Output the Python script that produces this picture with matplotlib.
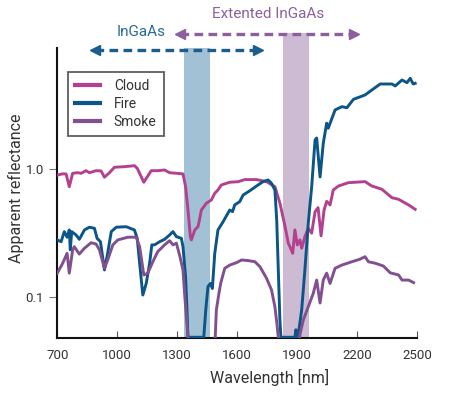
import matplotlib
matplotlib.use("Agg")
import matplotlib.pyplot as plt
import matplotlib.transforms as mtransforms

plt.rcParams['font.family'] = ['Roboto', 'DejaVu Sans']

# wavelength [nm] / apparent reflectance
cloud_nm = [700, 725, 744, 760, 777, 802, 819, 844, 861, 894, 919, 936, 961, 986, 1036, 1086, 1100,
            1133, 1170, 1203, 1237, 1262, 1296, 1329, 1342, 1354, 1366, 1371, 1388, 1404, 1413, 1421,
            1446, 1471, 1488, 1504, 1521, 1563, 1605, 1638, 1697, 1747, 1789, 1814, 1840, 1856, 1864,
            1878, 1889, 1901, 1914, 1923, 1939, 1956, 1973, 1990, 2005, 2020, 2035, 2048, 2065, 2081,
            2107, 2157, 2240, 2274, 2324, 2375, 2408, 2458, 2491]
cloud_r = [0.90, 0.92, 0.92, 0.73, 0.93, 0.94, 0.93, 0.975, 0.94, 0.975, 0.97, 0.866, 0.94, 1.037, 1.048,
           1.067, 1.018, 0.791, 0.975, 0.975, 0.987, 0.94, 0.93, 0.92, 0.73, 0.479, 0.296, 0.279, 0.334,
           0.354, 0.412, 0.479, 0.541, 0.574, 0.648, 0.688, 0.753, 0.791, 0.799, 0.83, 0.83, 0.80, 0.73,
           0.542, 0.354, 0.263, 0.247, 0.219, 0.334, 0.255, 0.279, 0.24, 0.296, 0.344, 0.315, 0.465,
           0.50, 0.30, 0.479, 0.56, 0.525, 0.688, 0.739, 0.785, 0.80, 0.739, 0.697, 0.598, 0.581, 0.525,
           0.485]

fire_nm = [700, 719, 735, 749, 760, 765, 772, 794, 810, 836, 861, 886, 899, 916, 936, 952, 970, 995,
           1045, 1086, 1100, 1112, 1128, 1145, 1162, 1173, 1187, 1212, 1237, 1262, 1279, 1296, 1321,
           1329, 1342, 1349, 1354, 1433, 1443, 1454, 1466, 1476, 1488, 1504, 1530, 1563, 1577, 1588,
           1613, 1630, 1664, 1697, 1730, 1755, 1772, 1789, 1798, 1806, 1814, 1819, 1889, 1894, 1901,
           1906, 1923, 1939, 1956, 1973, 1990, 1998, 2015, 2031, 2048, 2056, 2090, 2124, 2149, 2182,
           2240, 2274, 2316, 2375, 2391, 2425, 2450, 2466, 2481, 2491]
fire_r = [0.279, 0.270, 0.324, 0.293, 0.334, 0.233, 0.324, 0.305, 0.282, 0.334, 0.351, 0.344, 0.287,
          0.270, 0.162, 0.219, 0.324, 0.351, 0.354, 0.334, 0.287, 0.183, 0.103, 0.127, 0.183, 0.255,
          0.255, 0.270, 0.282, 0.305, 0.324, 0.296, 0.287, 0.247, 0.1435, 0.0787, 0.048, 0.048, 0.0787,
          0.120, 0.127, 0.116, 0.219, 0.334, 0.388, 0.479, 0.465, 0.525, 0.557, 0.628, 0.679, 0.739,
          0.80, 0.824, 0.776, 0.688, 0.400, 0.162, 0.0656, 0.048, 0.048, 0.055, 0.048, 0.0502, 0.0787,
          0.162, 0.379, 0.730, 1.70, 1.76, 0.87, 1.60, 2.30, 2.10, 2.92, 3.10, 3.04, 3.54, 3.83, 4.19,
          4.67, 4.67, 4.51, 5.02, 4.78, 5.18, 4.67, 4.73]

smoke_nm = [700, 727, 749, 760, 777, 785, 810, 836, 869, 894, 911, 936, 952, 978, 1003, 1053, 1095,
            1112, 1133, 1153, 1178, 1203, 1237, 1262, 1279, 1296, 1312, 1329, 1337, 1347, 1354, 1365,
            1475, 1485, 1496, 1509, 1518, 1538, 1563, 1597, 1622, 1655, 1689, 1714, 1747, 1772, 1789,
            1799, 1806, 1815, 1900, 1914, 1931, 1956, 1981, 1998, 2015, 2031, 2048, 2065, 2090, 2124,
            2174, 2215, 2240, 2257, 2291, 2332, 2366, 2408, 2425, 2458, 2483]
smoke_r = [0.153, 0.183, 0.219, 0.153, 0.233, 0.247, 0.216, 0.240, 0.265, 0.259, 0.233, 0.167, 0.194,
           0.255, 0.279, 0.293, 0.293, 0.247, 0.148, 0.153, 0.188, 0.226, 0.255, 0.275, 0.255, 0.263,
           0.212, 0.162, 0.1063, 0.0656, 0.048, 0.03, 0.03, 0.03, 0.0787, 0.1063, 0.128, 0.167, 0.177,
           0.185, 0.194, 0.192, 0.188, 0.172, 0.1395, 0.113, 0.0834, 0.0615, 0.048, 0.03, 0.03, 0.0502,
           0.0656, 0.0834, 0.1063, 0.135, 0.0892, 0.135, 0.153, 0.127, 0.167, 0.177, 0.188, 0.197, 0.206,
           0.188, 0.183, 0.174, 0.154, 0.148, 0.135, 0.135, 0.129]

ingaas_band = (1334, 1466)
ext_band = (1828, 1958)

CLOUD_C = "#b4418f"
FIRE_C = "#0b5587"
SMOKE_C = "#82508f"

fig = plt.figure(figsize=(4.49, 3.98), dpi=100)
ax = fig.add_axes([0.1276, 0.1508, 0.8011, 0.7278])

ax.axvspan(*ingaas_band, ymin=0, ymax=1.0, color="#a2c1d5", lw=0, zorder=0)
ax.axvspan(*ext_band, ymin=0, ymax=1.053, color="#cdbad3", lw=0, zorder=0, clip_on=False)

ax.plot(cloud_nm, cloud_r, color=CLOUD_C, lw=2.1, label="Cloud", zorder=3)
ax.plot(fire_nm, fire_r, color=FIRE_C, lw=2.1, label="Fire", zorder=3)
ax.plot(smoke_nm, smoke_r, color=SMOKE_C, lw=2.1, label="Smoke", zorder=3)

ax.set_yscale("log")
ax.set_xlim(700, 2500)
ax.set_ylim(0.0474, 8.9)
ax.set_xticks([700, 1000, 1300, 1600, 1900, 2200, 2500])
ax.set_yticks([0.1, 1.0])
ax.set_yticklabels(["0.1", "1.0"])
ax.yaxis.set_minor_locator(matplotlib.ticker.NullLocator())
ax.tick_params(axis="x", direction="in", length=5, width=0.8, color="#555555",
               labelsize=9.5, labelcolor="#333333", pad=8)
ax.tick_params(axis="y", direction="out", length=6, width=0.8, color="#777777",
               labelsize=9.5, labelcolor="#333333")

for s in ["top", "right"]:
    ax.spines[s].set_visible(False)
for s in ["left", "bottom"]:
    ax.spines[s].set_linewidth(1.5)
    ax.spines[s].set_color("#111111")

ax.set_xlabel("Wavelength [nm]", fontsize=11.5, color="#333333")
ax.xaxis.set_label_coords(0.591, -0.108)
ax.set_ylabel("Apparent reflectance", fontsize=11.5, color="#333333")
ax.yaxis.set_label_coords(-0.092, 0.518)

leg = ax.legend(loc="upper left", bbox_to_anchor=(0.03, 0.918), borderaxespad=0,
                fancybox=False, edgecolor="#222222", fontsize=10, handlelength=1.8,
                handletextpad=1.0, labelspacing=0.3, borderpad=0.5)
leg.get_frame().set_linewidth(1.2)
for line in leg.get_lines():
    line.set_linewidth(3)
for txt in leg.get_texts():
    txt.set_color("#333333")

# dashed double arrows for the detector ranges
trans = mtransforms.blended_transform_factory(ax.transData, ax.transAxes)


def range_arrow(x0, x1, y, color):
    ax.plot([x0, x1], [y, y], transform=trans, color=color, lw=2.4,
            ls=(0, (2.6, 1.6)), clip_on=False, zorder=4)
    ax.plot([x0], [y], transform=trans, marker="<", ms=7.5, color=color, clip_on=False, zorder=4)
    ax.plot([x1], [y], transform=trans, marker=">", ms=7.5, color=color, clip_on=False, zorder=4)


range_arrow(887, 1704, 0.994, "#1b5e8e")
range_arrow(1314, 2184, 1.049, "#8e5f9d")
ax.text(1120, 1.057, "InGaAs", transform=trans, ha="center", va="center",
        fontsize=11, color="#2a6a97")
ax.text(1757, 1.117, "Extented InGaAs", transform=trans, ha="center", va="center",
        fontsize=11, color="#8e5f9d")

fig.savefig("out.png", dpi=100)
